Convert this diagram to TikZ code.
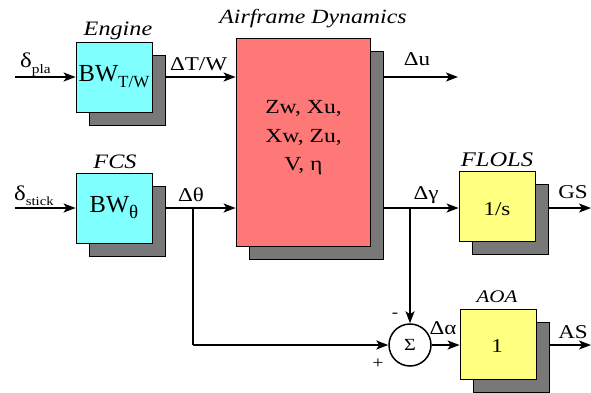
\documentclass[tikz,border=0pt]{standalone}
\usepackage{fontspec}
\setmainfont{Liberation Serif}[FakeStretch=1.18]
\newfontfamily\plainfont{Liberation Serif}
\usetikzlibrary{arrows.meta,shadows}
\definecolor{cy}{RGB}{128,255,255}
\definecolor{rd}{RGB}{255,120,120}
\definecolor{yl}{RGB}{255,255,128}
\definecolor{sg}{RGB}{120,120,120}
\begin{document}
\begin{tikzpicture}[x=1pt,y=-1pt,
  blk/.style={draw=black, line width=0.8pt, inner sep=0pt,
    copy shadow={shadow xshift=13pt, shadow yshift=-13pt, fill=sg}},
  small/.style={blk, minimum width=76pt, minimum height=70pt},
  arr/.style={line width=1.8pt, -{Stealth[length=12pt,width=9pt,inset=3pt]}},
  ln/.style={line width=1.8pt},
  lbl/.style={font=\fontsize{19.5}{22}\selectfont, inner sep=0pt, anchor=base},
  afl/.style={font=\fontsize{20}{22}\selectfont, inner sep=0pt, anchor=base},
  ttl/.style={font=\fontsize{20.5}{22}\selectfont\itshape, inner sep=0pt, anchor=base},
  box/.style={font=\plainfont\fontsize{24.5}{26}\selectfont}
]
\useasboundingbox (0,0) rectangle (591,392);
% blocks
\node[small, fill=cy, box] (eng) at (114,77) {BW\raisebox{-6pt}{\fontsize{17}{17}\selectfont T/W}};
\node[small, fill=cy, box] (fcs) at (114,208) {BW\raisebox{-6pt}{\fontsize{19}{19}\selectfont θ}};
\node[blk, fill=rd, minimum width=134pt, minimum height=208pt] (af) at (303,142) {};
\node[small, fill=yl] (fl) at (497,206) {};
\node[small, fill=yl] (aoa) at (498,344) {};
\node[draw=black, line width=1.5pt, fill=white, circle, minimum size=42pt, inner sep=0pt,
  font=\fontsize{17}{17}\selectfont] (sum) at (410,345) {Σ};
% block texts
\node[afl] (af1) at (303.5,113) {Zw, Xu,};
\node[afl] (af2) at (303.5,142) {Xw, Zu,};
\node[afl] (af3) at (303.5,170) {V, η};
\node[lbl] (flt) at (497,215) {1/s};
\node[lbl] (aot) at (497,352) {1};
% titles
\node[ttl] (te) at (118,35) {Engine};
\node[ttl] (tf) at (115,168) {FCS};
\node[ttl, font=\fontsize{20.2}{22}\selectfont\itshape] (ta) at (313,23) {Airframe Dynamics};
\node[ttl, font=\fontsize{20.8}{22}\selectfont\itshape] (tfl) at (497,166) {FLOLS};
\node[ttl, font=\fontsize{17.8}{20}\selectfont\itshape] (tao) at (497,302) {AOA};
% coordinates
\coordinate (inpla) at (15,77);
\coordinate (instk) at (15,208);
\coordinate (engo) at (165,77);
\coordinate (fcso) at (165,208);
\coordinate (afu) at (383,77);
\coordinate (afg) at (383,208);
\coordinate (uend) at (458,77);
\coordinate (bth) at (193,208);
\coordinate (bga) at (410,208);
\coordinate (flo) at (548,208);
\coordinate (gsend) at (591,208);
\coordinate (aoo) at (549,345);
\coordinate (asend) at (591,345);
% connectors
\draw[arr] (inpla) -- (eng.west |- inpla);
\draw[arr] (engo) -- (af.west |- engo);
\draw[arr] (instk) -- (fcs.west |- instk);
\draw[arr] (fcso) -- (af.west |- fcso);
\draw[arr] (afu) -- (uend);
\draw[arr] (afg) -- (fl.west |- afg);
\draw[arr] (flo) -- (gsend);
\draw[ln] (bth) -- (bth |- sum.center);
\draw[arr] (bth |- sum.center) -- (sum.west);
\draw[arr] (bga) -- (sum.north);
\draw[arr] (sum.east) -- (aoa.west |- sum.east);
\draw[arr] (aoo) -- (asend);
% signal labels
\node[lbl, anchor=base west] (dpla) at (20,67) {{\fontsize{21}{22}\selectfont δ}\raisebox{-6pt}{\fontsize{13}{13}\selectfont pla}};
\node[lbl, anchor=base west] (dstk) at (14,200) {{\fontsize{21}{22}\selectfont δ}\raisebox{-5pt}{\fontsize{12.5}{12}\selectfont stick}};
\node[lbl] (ltw) at (198.5,70) {ΔT/W};
\node[lbl] (lth) at (191,201) {Δθ};
\node[lbl] (lu) at (417,65) {Δu};
\node[lbl] (lg) at (426,199) {Δγ};
\node[lbl] (lgs) at (573,198) {GS};
\node[lbl] (las) at (573,338) {AS};
\node[lbl] (lal) at (443,334) {Δα};
\node[lbl, font=\fontsize{16}{16}\selectfont] (lm) at (395,317) {-};
\node[lbl, font=\fontsize{17}{17}\selectfont] (lp) at (378,368) {+};
\end{tikzpicture}
\end{document}
